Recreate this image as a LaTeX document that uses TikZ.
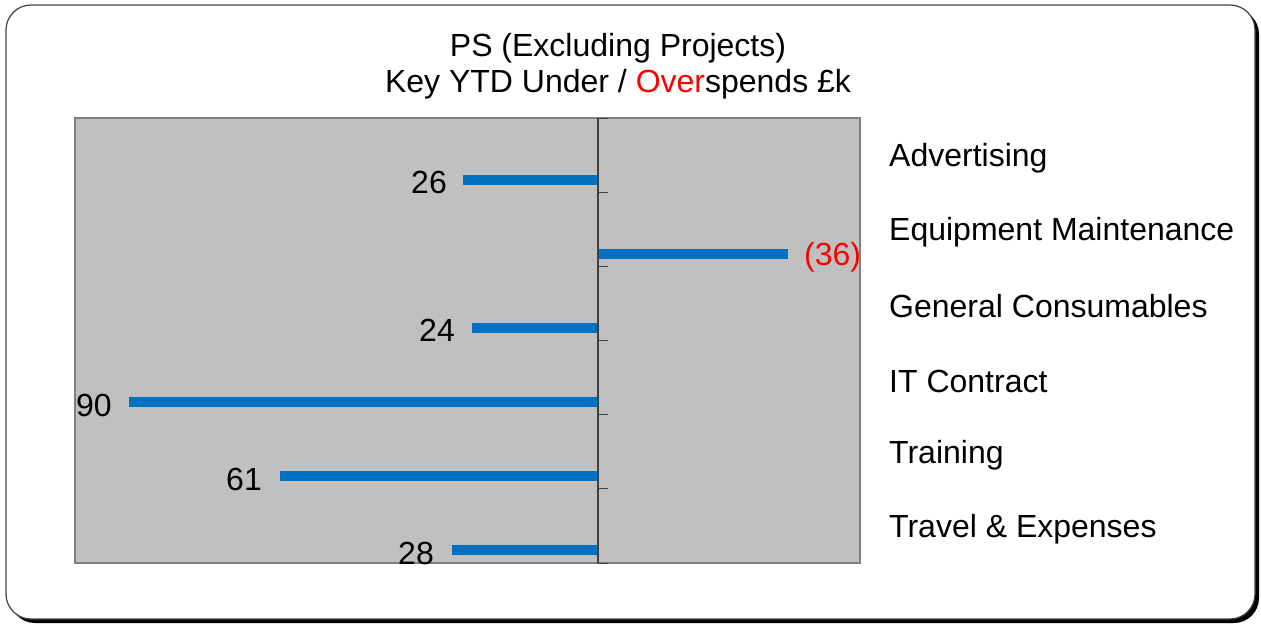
\documentclass[tikz,border=0pt]{standalone}
\usepackage{fontspec}
\setmainfont{Liberation Sans}
\definecolor{barblue}{RGB}{0, 112, 192}
\definecolor{plotgray}{RGB}{192, 192, 192}
\definecolor{framegray}{RGB}{128, 128, 128}
\definecolor{axisgray}{RGB}{64, 64, 64}
\definecolor{overred}{RGB}{255, 0, 0}
\begin{document}
\begin{tikzpicture}[x=1pt, y=1pt]
[every node/.style={inner sep=0pt}]
\tikzset{txt/.style={inner sep=0pt, font=\fontsize{32}{38}\selectfont},
  val/.style={txt, anchor=east},
  cat/.style={txt, anchor=west},
  bar/.style={fill=barblue, draw=none},
  tick/.style={line width=1pt, color=axisgray}}
\useasboundingbox (0pt, 0pt) rectangle (1261pt, -625pt);
% outer panel with shadow
\fill [black, rounded corners=25pt] (10pt, -9pt) rectangle (1259pt, -623pt);
\draw [fill=white, line width=1.2pt, draw=black!75, rounded corners=25pt] (6pt, -5pt) rectangle (1255pt, -619pt);
% plot area
\draw [fill=plotgray, draw=framegray, line width=2pt] (75pt, -118pt) rectangle (860pt, -563pt);
% title
\node (t1) [txt] at (618pt, -48pt) {PS (Excluding Projects)};
\node (t2) [txt] at (618pt, -84pt) {Key YTD Under / \textcolor{overred}{Over}spends £k};
% bars
\fill [bar] (463pt, -174.5pt) rectangle (598pt, -184.5pt);
\fill [bar] (598pt, -248.5pt) rectangle (788pt, -258.5pt);
\fill [bar] (472pt, -322.5pt) rectangle (598pt, -332.5pt);
\fill [bar] (129pt, -396.5pt) rectangle (598pt, -406.5pt);
\fill [bar] (280pt, -470.5pt) rectangle (598pt, -480.5pt);
\fill [bar] (452pt, -544.5pt) rectangle (598pt, -554.5pt);
% axis and ticks
\draw [line width=1.3pt, color=axisgray] (598pt, -118pt) -- (598pt, -563pt);
\draw [tick] (598pt, -118pt) -- (608pt, -118pt);
\draw [tick] (598pt, -192.2pt) -- (608pt, -192.2pt);
\draw [tick] (598pt, -266.3pt) -- (608pt, -266.3pt);
\draw [tick] (598pt, -340.5pt) -- (608pt, -340.5pt);
\draw [tick] (598pt, -414.7pt) -- (608pt, -414.7pt);
\draw [tick] (598pt, -488.8pt) -- (608pt, -488.8pt);
\draw [tick] (598pt, -563pt) -- (608pt, -563pt);
% values
\node (v1) [val] at (447pt, -182pt) {26};
\node (v2) [txt, anchor=west, text=overred] at (804pt, -257pt) {(36)};
\node (v3) [val] at (455pt, -330pt) {24};
\node (v4) [val] at (112pt, -405pt) {90};
\node (v5) [val] at (262pt, -479pt) {61};
\node (v6) [val] at (434pt, -553pt) {28};
% categories
\node (c1) [cat] at (889pt, -158pt) {Advertising};
\node (c2) [cat] at (889pt, -232pt) {Equipment Maintenance};
\node (c3) [cat] at (889pt, -306pt) {General Consumables};
\node (c4) [cat] at (889pt, -381pt) {IT Contract};
\node (c5) [cat] at (889pt, -455pt) {Training};
\node (c6) [cat] at (889pt, -529pt) {Travel \& Expenses};
\end{tikzpicture}
\end{document}
